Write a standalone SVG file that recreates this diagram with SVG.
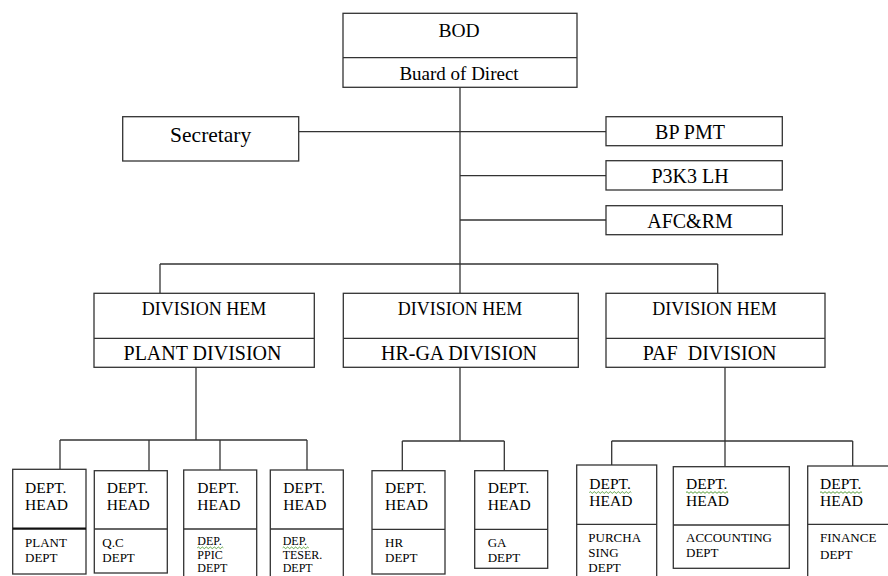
<svg xmlns="http://www.w3.org/2000/svg" width="888" height="576" viewBox="0 0 888 576">
<style>
  .box { fill: #ffffff; stroke: #333333; stroke-width: 1.3; }
  .div { fill: none; stroke: #333333; stroke-width: 1.3; }
  .ln { fill: none; stroke: #333333; stroke-width: 1.3; }
  text { font-family: "Liberation Serif", "Times New Roman", serif; fill: #000000; }
  .c { text-anchor: middle; }
  .t20 { font-size: 20px; }
  .t19 { font-size: 19px; }
  .t18 { font-size: 18px; }
  .hd { font-size: 15.5px; }
  .sm { font-size: 13px; }
  .xs { font-size: 12px; }
  .sq { fill: none; stroke: #5aa03c; stroke-width: 1; }
</style>
<rect width="888" height="576" fill="#ffffff"/>

<g id="connectors">
  <path class="ln" d="M460 87 V264"/>
  <path class="ln" d="M298.7 131.7 H606"/>
  <path class="ln" d="M460 175.7 H606"/>
  <path class="ln" d="M460 220 H606"/>
  <path class="ln" d="M160 264 H717.7"/>
  <path class="ln" d="M160 264 V293.3"/>
  <path class="ln" d="M460 264 V293.3"/>
  <path class="ln" d="M717.7 264 V293.3"/>
  <path class="ln" d="M196 367.3 V440"/>
  <path class="ln" d="M60 440 H307"/>
  <path class="ln" d="M60 440 V469.3"/>
  <path class="ln" d="M149 440 V470.7"/>
  <path class="ln" d="M220 440 V470"/>
  <path class="ln" d="M307 440 V470"/>
  <path class="ln" d="M460 367.3 V441"/>
  <path class="ln" d="M402.3 441 H504.3"/>
  <path class="ln" d="M402.3 441 V470.7"/>
  <path class="ln" d="M504.3 441 V470.7"/>
  <path class="ln" d="M725 367.3 V441"/>
  <path class="ln" d="M611.7 441 H852.7"/>
  <path class="ln" d="M611.7 441 V465"/>
  <path class="ln" d="M725 441 V466.7"/>
  <path class="ln" d="M852.7 441 V466"/>
</g>

<g id="bod">
  <rect class="box" x="343" y="13.3" width="234" height="74"/>
  <path class="div" d="M343 57.7 H577"/>
  <text class="c" x="459" y="37" style="font-size:19.5px">BOD</text>
  <text class="c t19" x="459" y="80">Buard of Direct</text>
</g>

<g id="secretary">
  <rect class="box" x="122.7" y="116.7" width="176" height="44.3"/>
  <text class="c" x="210.7" y="141.7" style="font-size:21.5px">Secretary</text>
</g>

<g id="bppmt">
  <rect class="box" x="606" y="116.7" width="176.3" height="29"/>
  <text class="c t20" x="690" y="139.3">BP PMT</text>
</g>
<g id="p3k3">
  <rect class="box" x="606" y="160.7" width="176.3" height="29.3"/>
  <text class="c t20" x="690" y="183.3">P3K3 LH</text>
</g>
<g id="afcrm">
  <rect class="box" x="606" y="205.7" width="176.3" height="29"/>
  <text class="c t20" x="690" y="228.3">AFC&amp;RM</text>
</g>

<g id="plant-division">
  <rect class="box" x="94" y="293.3" width="220.3" height="74"/>
  <path class="div" d="M94 338.3 H314.3"/>
  <text class="c t18" x="204" y="315">DIVISION HEM</text>
  <text class="c t20" x="202.5" y="360">PLANT DIVISION</text>
</g>
<g id="hrga-division">
  <rect class="box" x="343.3" y="293.3" width="235" height="74"/>
  <path class="div" d="M343.3 338.3 H578.3"/>
  <text class="c t18" x="460" y="315">DIVISION HEM</text>
  <text class="c t20" x="459" y="360">HR-GA DIVISION</text>
</g>
<g id="paf-division">
  <rect class="box" x="606" y="293.3" width="219" height="74"/>
  <path class="div" d="M606 338.3 H825"/>
  <text class="c t18" x="714.5" y="315">DIVISION HEM</text>
  <text class="c t20" x="709.7" y="360" xml:space="preserve">PAF  DIVISION</text>
</g>

<g id="plant-dept">
  <rect class="box" x="12.7" y="469.3" width="73.3" height="104.7"/>
  <path class="div" d="M12.7 528.7 H86" style="stroke-width:2.2;stroke:#111"/>
  <text class="hd" x="25" y="493">DEPT.</text>
  <text class="hd" x="25" y="510">HEAD</text>
  <text class="sm" x="25" y="547.3">PLANT</text>
  <text class="sm" x="25" y="561.7">DEPT</text>
</g>
<g id="qc-dept">
  <rect class="box" x="94.3" y="470.7" width="73" height="102.3"/>
  <path class="div" d="M94.3 529 H167.3"/>
  <text class="hd" x="106.7" y="493">DEPT.</text>
  <text class="hd" x="106.7" y="510">HEAD</text>
  <text class="sm" x="102.3" y="547.3">Q.C</text>
  <text class="sm" x="102.3" y="561.7">DEPT</text>
</g>
<g id="ppic-dept">
  <rect class="box" x="183.7" y="470" width="73" height="110"/>
  <path class="div" d="M183.7 529 H256.7"/>
  <text class="hd" x="197.3" y="493">DEPT.</text>
  <text class="hd" x="197.3" y="510">HEAD</text>
  <text class="xs" x="197.3" y="545">DEP.</text>
  <path class="sq" d="M197.3 547.8 q1 -1.6 2 0 t2 0 t2 0 t2 0 t2 0 t2 0 t2 0 t2 0 t2 0 t2 0 t2 0 t2 0 t2 0"/>
  <text class="xs" x="197.3" y="558.5">PPIC</text>
  <text class="xs" x="197.3" y="572">DEPT</text>
</g>
<g id="teser-dept">
  <rect class="box" x="270.3" y="470" width="73" height="110"/>
  <path class="div" d="M270.3 529 H343.3"/>
  <text class="hd" x="283.3" y="493">DEPT.</text>
  <text class="hd" x="283.3" y="510">HEAD</text>
  <text class="xs" x="282.7" y="545">DEP.</text>
  <path class="sq" d="M282.7 547.8 q1 -1.6 2 0 t2 0 t2 0 t2 0 t2 0 t2 0 t2 0 t2 0 t2 0 t2 0 t2 0 t2 0 t2 0"/>
  <text class="xs" x="282.7" y="558.5">TESER.</text>
  <text class="xs" x="282.7" y="572">DEPT</text>
</g>

<g id="hr-dept">
  <rect class="box" x="372" y="470.7" width="73" height="103.3"/>
  <path class="div" d="M372 529.3 H445"/>
  <text class="hd" x="385" y="492.7">DEPT.</text>
  <text class="hd" x="385" y="510">HEAD</text>
  <text class="sm" x="385" y="547.3">HR</text>
  <text class="sm" x="385" y="561.7">DEPT</text>
</g>
<g id="ga-dept">
  <rect class="box" x="474.7" y="470.7" width="73" height="97.6"/>
  <path class="div" d="M474.7 529.3 H547.7"/>
  <text class="hd" x="487.7" y="492.7">DEPT.</text>
  <text class="hd" x="487.7" y="510">HEAD</text>
  <text class="sm" x="487.7" y="547.3">GA</text>
  <text class="sm" x="487.7" y="561.7">DEPT</text>
</g>

<g id="purchasing-dept">
  <rect class="box" x="576.7" y="465" width="80" height="115"/>
  <path class="div" d="M576.7 524.3 H656.7"/>
  <text class="hd" x="589.3" y="489.3">DEPT.</text>
  <path class="sq" d="M589.3 492.5 q1 -1.6 2 0 t2 0 t2 0 t2 0 t2 0 t2 0 t2 0 t2 0 t2 0 t2 0 t2 0 t2 0 t2 0 t2 0 t2 0 t2 0 t2 0 t2 0 t2 0 t2 0 t2 0"/>
  <text class="hd" x="589.3" y="506">HEAD</text>
  <text class="sm" x="588.3" y="541.7">PURCHA</text>
  <text class="sm" x="588.3" y="557.3">SING</text>
  <text class="sm" x="588.3" y="571.5">DEPT</text>
</g>
<g id="accounting-dept">
  <rect class="box" x="673.3" y="466.7" width="116" height="101.6"/>
  <path class="div" d="M673.3 525 H789.3"/>
  <text class="hd" x="686" y="489.3">DEPT.</text>
  <path class="sq" d="M686 492.5 q1 -1.6 2 0 t2 0 t2 0 t2 0 t2 0 t2 0 t2 0 t2 0 t2 0 t2 0 t2 0 t2 0 t2 0 t2 0 t2 0 t2 0 t2 0 t2 0 t2 0 t2 0 t2 0"/>
  <text class="hd" x="686" y="506">HEAD</text>
  <text class="sm" x="686" y="541.7">ACCOUNTING</text>
  <text class="sm" x="686" y="557.3">DEPT</text>
</g>
<g id="finance-dept">
  <rect class="box" x="807.7" y="466" width="90" height="120"/>
  <path class="div" d="M807.7 524.3 H890"/>
  <text class="hd" x="820" y="489.3">DEPT.</text>
  <path class="sq" d="M820 492.5 q1 -1.6 2 0 t2 0 t2 0 t2 0 t2 0 t2 0 t2 0 t2 0 t2 0 t2 0 t2 0 t2 0 t2 0 t2 0 t2 0 t2 0 t2 0 t2 0 t2 0 t2 0 t2 0"/>
  <text class="hd" x="820" y="506">HEAD</text>
  <text class="sm" x="820" y="541.7">FINANCE</text>
  <text class="sm" x="820" y="558.5">DEPT</text>
</g>
</svg>
